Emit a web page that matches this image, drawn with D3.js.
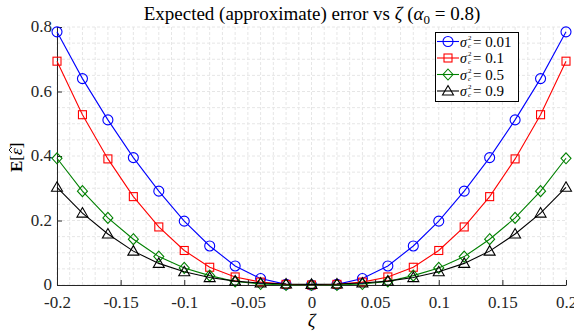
<!DOCTYPE html>
<html><head><meta charset="utf-8">
<script src="https://cdn.jsdelivr.net/npm/d3@7"></script>
<style>body{margin:0;background:#fff}svg{display:block}text{font-family:"Liberation Serif","DejaVu Serif",serif}</style>
</head><body><div id="chart"></div>
<script>
const zeta = [-0.2,-0.18,-0.16,-0.14,-0.12,-0.1,-0.08,-0.06,-0.04,-0.02,0,0.02,0.04,0.06,0.08,0.1,0.12,0.14,0.16,0.18,0.2];
const s001 = [0.785,0.640,0.512,0.395,0.291,0.198,0.121,0.059,0.020,0.002,0.000,0.002,0.020,0.059,0.121,0.198,0.291,0.395,0.512,0.640,0.785];
const s01  = [0.694,0.528,0.391,0.274,0.180,0.107,0.055,0.025,0.009,0.002,0.000,0.002,0.009,0.025,0.055,0.107,0.180,0.274,0.391,0.528,0.694];
const s05  = [0.393,0.291,0.208,0.142,0.088,0.053,0.029,0.011,0.003,0.000,0.000,0.000,0.003,0.011,0.029,0.053,0.088,0.142,0.208,0.291,0.393];
const s09  = [0.303,0.223,0.158,0.105,0.067,0.041,0.023,0.012,0.006,0.003,0.002,0.003,0.006,0.012,0.023,0.041,0.067,0.105,0.158,0.223,0.303];
const seriesNames = ["0.01","0.1","0.5","0.9"];
const xTicks = [-0.2,-0.15,-0.1,-0.05,0,0.05,0.1,0.15,0.2];
const xTickLabels = ["-0.2","-0.15","-0.1","-0.05","0","0.05","0.1","0.15","0.2"];
const yTicks = [0,0.2,0.4,0.6,0.8];
const yTickLabels = ["0","0.2","0.4","0.6","0.8"];

const W=574,H=335, m={l:57,r:8,t:27,b:50};
const svg=d3.select("#chart").append("svg").attr("width",W).attr("height",H);
const x=d3.scaleLinear().domain([-0.2,0.2]).range([m.l,W-m.r]);
const y=d3.scaleLinear().domain([0,0.8]).range([H-m.b,m.t]);

// grid (minor + major)
const g=svg.append("g");
d3.range(-0.2,0.2001,0.01).forEach(v=>{
  g.append("line").attr("x1",x(v)).attr("x2",x(v)).attr("y1",y(0)).attr("y2",y(0.8))
   .attr("stroke","#e6e6e6").attr("stroke-dasharray","3,2").attr("stroke-width",1);
});
d3.range(0,0.8001,0.05).forEach(v=>{
  g.append("line").attr("x1",x(-0.2)).attr("x2",x(0.2)).attr("y1",y(v)).attr("y2",y(v))
   .attr("stroke","#e6e6e6").attr("stroke-dasharray","3,2").attr("stroke-width",1);
});

// axes
const xa=svg.append("g").attr("transform",`translate(0,${y(0)})`)
  .call(d3.axisBottom(x).tickValues(xTicks).tickFormat((d,i)=>xTickLabels[i]).tickSizeInner(-5).tickSizeOuter(0).tickPadding(11));
const ya=svg.append("g").attr("transform",`translate(${x(-0.2)},0)`)
  .call(d3.axisLeft(y).tickValues(yTicks).tickFormat((d,i)=>yTickLabels[i]).tickSizeInner(-5).tickSizeOuter(0).tickPadding(5));
[xa,ya].forEach(a=>{
  a.select(".domain").attr("stroke","#262626");
  a.selectAll(".tick line").attr("stroke","#262626");
  a.selectAll(".tick text").attr("font-size",17).attr("fill","#262626").style("font-family","'Liberation Serif',serif");
});
ya.selectAll(".tick text").attr("dy","0.28em");

const series=[
  {vals:s001,color:"#0000ff",marker:"circle"},
  {vals:s01,color:"#ff0000",marker:"square"},
  {vals:s05,color:"#008000",marker:"diamond"},
  {vals:s09,color:"#000000",marker:"triangle"}];

function drawMarker(sel,type,cx,cy){
  if(type==="circle") sel.append("circle").attr("cx",cx).attr("cy",cy).attr("r",5);
  else if(type==="square") sel.append("rect").attr("x",cx-4).attr("y",cy-4).attr("width",8).attr("height",8);
  else if(type==="diamond") sel.append("path").attr("d",`M${cx},${cy-5.5}L${cx+5},${cy}L${cx},${cy+5.5}L${cx-5},${cy}Z`);
  else sel.append("path").attr("d",`M${cx},${cy-5.5}L${cx+5.5},${cy+4}L${cx-5.5},${cy+4}Z`);
}

const line=d3.line().x((d,i)=>x(zeta[i])).y(d=>y(d));
series.forEach(s=>{
  svg.append("path").datum(s.vals).attr("d",line).attr("fill","none").attr("stroke",s.color).attr("stroke-width",1.1);
  const mg=svg.append("g").attr("fill","none").attr("stroke",s.color).attr("stroke-width",1.1);
  s.vals.forEach((v,i)=>drawMarker(mg,s.marker,x(zeta[i]),y(v)));
});

// title
const t=svg.append("text").attr("x",312).attr("y",20).attr("text-anchor","middle").attr("font-size",19).attr("fill","#000");
t.append("tspan").text("Expected (approximate) error vs ");
t.append("tspan").attr("font-style","italic").text("ζ");
t.append("tspan").text(" (");
t.append("tspan").attr("font-style","italic").text("α");
t.append("tspan").attr("font-size",13).attr("dy",4).text("0");
t.append("tspan").attr("dy",-4).text(" = 0.8)");

// x label
svg.append("text").attr("x",x(0)).attr("y",327).attr("text-anchor","middle").attr("font-size",19).attr("font-style","italic").text("ζ");
// y label
const ylg=svg.append("g").attr("transform","translate(22,156) rotate(-90)");
const yl=ylg.append("text").attr("x",-16).attr("y",0).attr("font-size",17);
yl.append("tspan").attr("font-weight","bold").text("E");
yl.append("tspan").text("[");
yl.append("tspan").attr("font-style","italic").text("ε");
yl.append("tspan").text("]");
ylg.append("path").attr("d","M3,-10L6,-13L9,-10").attr("fill","none").attr("stroke","#000").attr("stroke-width",0.9);

// legend
const lg=svg.append("g");
lg.append("rect").attr("x",435.5).attr("y",32.5).attr("width",83).attr("height",69).attr("fill","#fff").attr("stroke","#000").attr("stroke-width",1);
series.forEach((s,i)=>{
  const cy=41.5+i*16.5;
  lg.append("line").attr("x1",437).attr("x2",459).attr("y1",cy).attr("y2",cy).attr("stroke",s.color).attr("stroke-width",1.1);
  const mg=lg.append("g").attr("fill","none").attr("stroke",s.color).attr("stroke-width",1.1);
  drawMarker(mg,s.marker,448,cy);
  const lt=lg.append("text").attr("x",460).attr("y",cy+5).attr("font-size",14);
  lt.append("tspan").attr("font-style","italic").text("σ");
  lt.append("tspan").attr("x",468).attr("y",cy-2).attr("font-size",7).text("2");
  lt.append("tspan").attr("x",468).attr("y",cy+6).attr("font-size",7).attr("font-style","italic").text("c");
  lt.append("tspan").attr("x",473).attr("y",cy+5).attr("font-size",15).text("= "+seriesNames[i]);
});
</script></body></html>
